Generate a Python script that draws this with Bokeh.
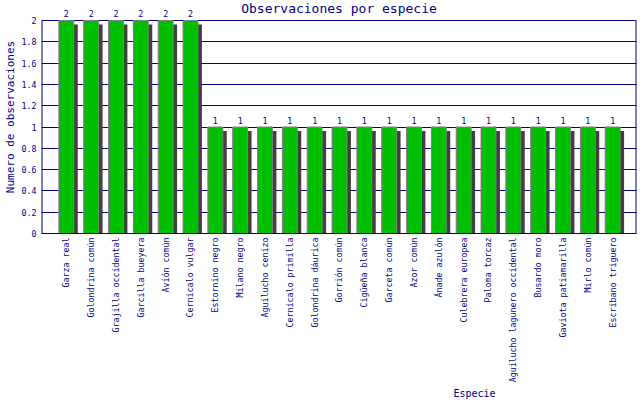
import math
from bokeh.plotting import figure
from bokeh.models import Range1d, FixedTicker, NumeralTickFormatter, Title, ColumnDataSource
from bokeh.transform import dodge
from bokeh.core.properties import value
from bokeh.embed import file_html
from bokeh.resources import INLINE

# ---- data ----
titulo = "Observaciones por especie"
eje_x = "Especie"
eje_y = "Numero de observaciones"
especies = [
    "Garza real", "Golondrina común", "Grajilla occidental", "Garcilla bueyera",
    "Avión común", "Cernícalo vulgar", "Estornino negro", "Milano negro",
    "Aguilucho cenizo", "Cernícalo primilla", "Golondrina dáurica", "Gorrión común",
    "Cigüeña blanca", "Garceta común", "Azor común", "Ánade azulón",
    "Culebrera europea", "Paloma torcaz", "Aguilucho lagunero occidental",
    "Busardo moro", "Gaviota patiamarilla", "Mirlo común", "Escribano triguero",
]
observaciones = [2, 2, 2, 2, 2, 2, 1, 1, 1, 1, 1, 1, 1, 1, 1, 1, 1, 1, 1, 1, 1, 1, 1]
y_ticks = [0, 0.2, 0.4, 0.6, 0.8, 1.0, 1.2, 1.4, 1.6, 1.8, 2.0]

# ---- style / layout ----
NAVY = "#000080"
GREEN = "#00BE00"
SHADOW = "#404040"
BORDER = "#808080"
FONT = "DejaVu Sans Mono"
W, H = 640, 400
LEFT, RIGHT, BOTTOM = 37, 4, 167
TOP_GAP = 20                      # pixels between the top of the frame and the value 2
Y_END = y_ticks[-1]
PX_Y = Y_END / (H - BOTTOM - TOP_GAP)
Y_TOP = Y_END + TOP_GAP * PX_Y
PX_X = 1.0 / 25.0
X_START = -1.0
X_END = X_START + (W - LEFT - RIGHT) * PX_X
SHADOW_DX = 4 * PX_X
SHADOW_DY = 4 * PX_Y
LABEL_GAP = 7 * PX_Y
BAR_W = 0.6

n = len(especies)
xs = list(range(n))
src = ColumnDataSource(dict(
    x=xs,
    especie=especies,
    obs=observaciones,
    shadow_top=[v - SHADOW_DY for v in observaciones],
    label_y=[v + LABEL_GAP for v in observaciones],
    label=[str(v) for v in observaciones],
))

p = figure(width=W, height=H, x_range=Range1d(X_START, X_END), y_range=Range1d(0, Y_TOP),
           output_backend="svg", toolbar_location=None, title=None,
           min_border_left=LEFT, min_border_right=RIGHT, min_border_top=0,
           min_border_bottom=BOTTOM)
p.outline_line_color = None
p.background_fill_color = "white"
p.border_fill_color = "white"

p.xgrid.visible = False
p.ygrid.grid_line_color = NAVY
p.ygrid.grid_line_width = 1

# shadows and bars
p.vbar(x=dodge("x", SHADOW_DX), top="shadow_top", bottom=0, width=BAR_W, source=src,
       fill_color=SHADOW, line_color=None)
p.vbar(x="x", top="obs", bottom=0, width=BAR_W, source=src,
       fill_color=GREEN, line_color=BORDER, line_width=1)

# value labels
p.text(x="x", y="label_y", text="label", source=src, text_align="center",
       text_baseline="alphabetic", text_font=value(FONT), text_font_size="8.3px",
       text_color=NAVY)

# side borders of the plot area (from 0 to the top tick)
p.segment(x0=[X_START, X_END], y0=[y_ticks[0]] * 2, x1=[X_START, X_END], y1=[Y_END] * 2,
          line_color=NAVY, line_width=2)

# chart title, in the strip above the value 2
p.text(x=[(X_START + X_END) / 2], y=[Y_TOP], text=[titulo], text_align="center",
       text_baseline="top", text_font=value(FONT), text_font_size="13px", text_color=NAVY)

# y axis
ya = p.yaxis[0]
ya.ticker = FixedTicker(ticks=y_ticks)
ya.formatter = NumeralTickFormatter(format="0.[0]")
ya.axis_line_color = None
ya.major_tick_in = 0
ya.major_tick_out = 0
ya.minor_tick_in = 0
ya.minor_tick_out = 0
ya.major_label_standoff = 5
ya.major_label_text_font = FONT
ya.major_label_text_font_size = "8.3px"
ya.major_label_text_color = NAVY
ya.axis_label = eje_y
ya.axis_label_standoff = 2
ya.axis_label_text_font = FONT
ya.axis_label_text_font_size = "11px"
ya.axis_label_text_font_style = "normal"
ya.axis_label_text_color = NAVY

# x axis
xa = p.xaxis[0]
xa.ticker = FixedTicker(ticks=xs)
xa.major_label_overrides = {i: e for i, e in zip(xs, especies)}
xa.major_label_orientation = math.pi / 2
xa.major_label_standoff = 4
xa.major_label_text_font = FONT
xa.major_label_text_font_size = "8.3px"
xa.major_label_text_color = NAVY
xa.axis_line_color = NAVY
xa.major_tick_in = 0
xa.major_tick_out = 0
xa.minor_tick_in = 0
xa.minor_tick_out = 0

p.add_layout(Title(text=eje_x, align="left", offset=412, standoff=0,
                   text_font=FONT, text_font_size="10px", text_font_style="normal",
                   text_color=NAVY), "below")

open("out.html", "w").write(file_html(p, INLINE))
